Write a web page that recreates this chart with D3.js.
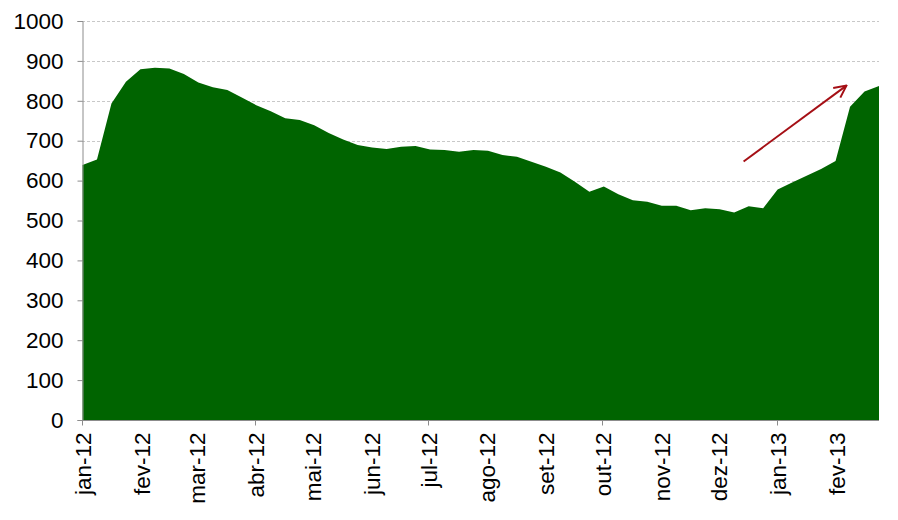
<!DOCTYPE html>
<html>
<head>
<meta charset="utf-8">
<script src="https://cdn.jsdelivr.net/npm/d3@7/dist/d3.min.js"></script>
<style>
body{margin:0;background:#fff;}
svg{display:block;font-family:"Liberation Sans",Arial,sans-serif;}
</style>
</head>
<body>
<svg id="chart" width="898" height="520"></svg>
<script>
// Series values (evenly spaced observations, Jan 2012 - Feb 2013)
const values = [639,653,793,848,879,883,881,867,846,834,827,808,789,774,756,752,739,719,703,689,
683,679,685,687,678,677,672,677,675,664,660,647,635,620,597,572,585,566,551,547,
537,537,526,531,528,520,536,531,578,595,612,629,649,785,823,837];
const monthLabels = ["jan-12","fev-12","mar-12","abr-12","mai-12","jun-12","jul-12","ago-12","set-12","out-12","nov-12","dez-12","jan-13","fev-13"];
const monthDates = monthLabels.map((d,i)=>new Date(2012, i, 1));
const yTicks = [0,100,200,300,400,500,600,700,800,900,1000];
const arrowPts = [{i:45.65, v:648},{i:52.75, v:838}];

const svg = d3.select("#chart");
const L = 82, R = 879, T = 21, B = 420;

const x = d3.scaleLinear().domain([0, values.length-1]).range([L+0.5, R]);
const xt = d3.scaleTime().domain([new Date(2012,0,1), new Date(2013,1,23,16)]).range([L, R]);
const y = d3.scaleLinear().domain([0,1000]).range([B, T]);

// gridlines
svg.append("g").selectAll("line").data(yTicks.filter(d=>d>0)).join("line")
  .attr("x1", L).attr("x2", R)
  .attr("y1", d=>Math.round(y(d))+0.5).attr("y2", d=>Math.round(y(d))+0.5)
  .attr("stroke","#c8c8c8").attr("stroke-dasharray","3,2").attr("stroke-width",1);

// area
const area = d3.area().x((d,i)=>x(i)).y0(y(0)).y1(d=>y(d));
svg.append("path").datum(values).attr("d", area).attr("fill","#006400");

// y axis
const yAxis = svg.append("g").attr("transform",`translate(${L+0.5},0)`)
  .call(d3.axisLeft(y).tickValues(yTicks).tickFormat(d3.format("d")).tickSize(5).tickPadding(14));
yAxis.select(".domain").attr("stroke","#8c8c8c");
yAxis.selectAll(".tick line").attr("stroke","#8c8c8c");
yAxis.selectAll("text").attr("font-size","22.5px").attr("fill","#000").attr("font-family","Liberation Sans, Arial, sans-serif");

// x axis
const xg = svg.append("g").attr("transform",`translate(0,${B+0.5})`);
xg.append("line").attr("x1",L).attr("x2",R).attr("stroke","#8c8c8c");
xg.selectAll("line.tk").data(monthDates.filter((d,i)=>i%3===0)).join("line").attr("class","tk")
  .attr("x1",d=>Math.round(xt(d))+0.5).attr("x2",d=>Math.round(xt(d))+0.5)
  .attr("y1",0).attr("y2",5).attr("stroke","#8c8c8c");
xg.selectAll("text").data(monthDates).join("text")
  .attr("transform",d=>`translate(${xt(d)+1},12) rotate(-90)`)
  .attr("text-anchor","end").attr("dy","0.35em")
  .attr("font-size","22.5px").attr("fill","#000")
  .text((d,i)=>monthLabels[i]);

// arrow annotation
const ax1 = x(arrowPts[0].i), ay1 = y(arrowPts[0].v), ax2 = x(arrowPts[1].i), ay2 = y(arrowPts[1].v);
svg.append("defs").append("marker").attr("id","ah").attr("viewBox","0 0 14 14")
  .attr("refX",13).attr("refY",7).attr("markerWidth",14).attr("markerHeight",14)
  .attr("orient","auto").attr("markerUnits","userSpaceOnUse")
  .append("path").attr("d","M1,1 L13,7 L1,13").attr("fill","none").attr("stroke","#a50f15").attr("stroke-width",2);
svg.append("line").attr("x1",ax1).attr("y1",ay1).attr("x2",ax2).attr("y2",ay2)
  .attr("stroke","#a50f15").attr("stroke-width",2).attr("marker-end","url(#ah)");
</script>
</body>
</html>
